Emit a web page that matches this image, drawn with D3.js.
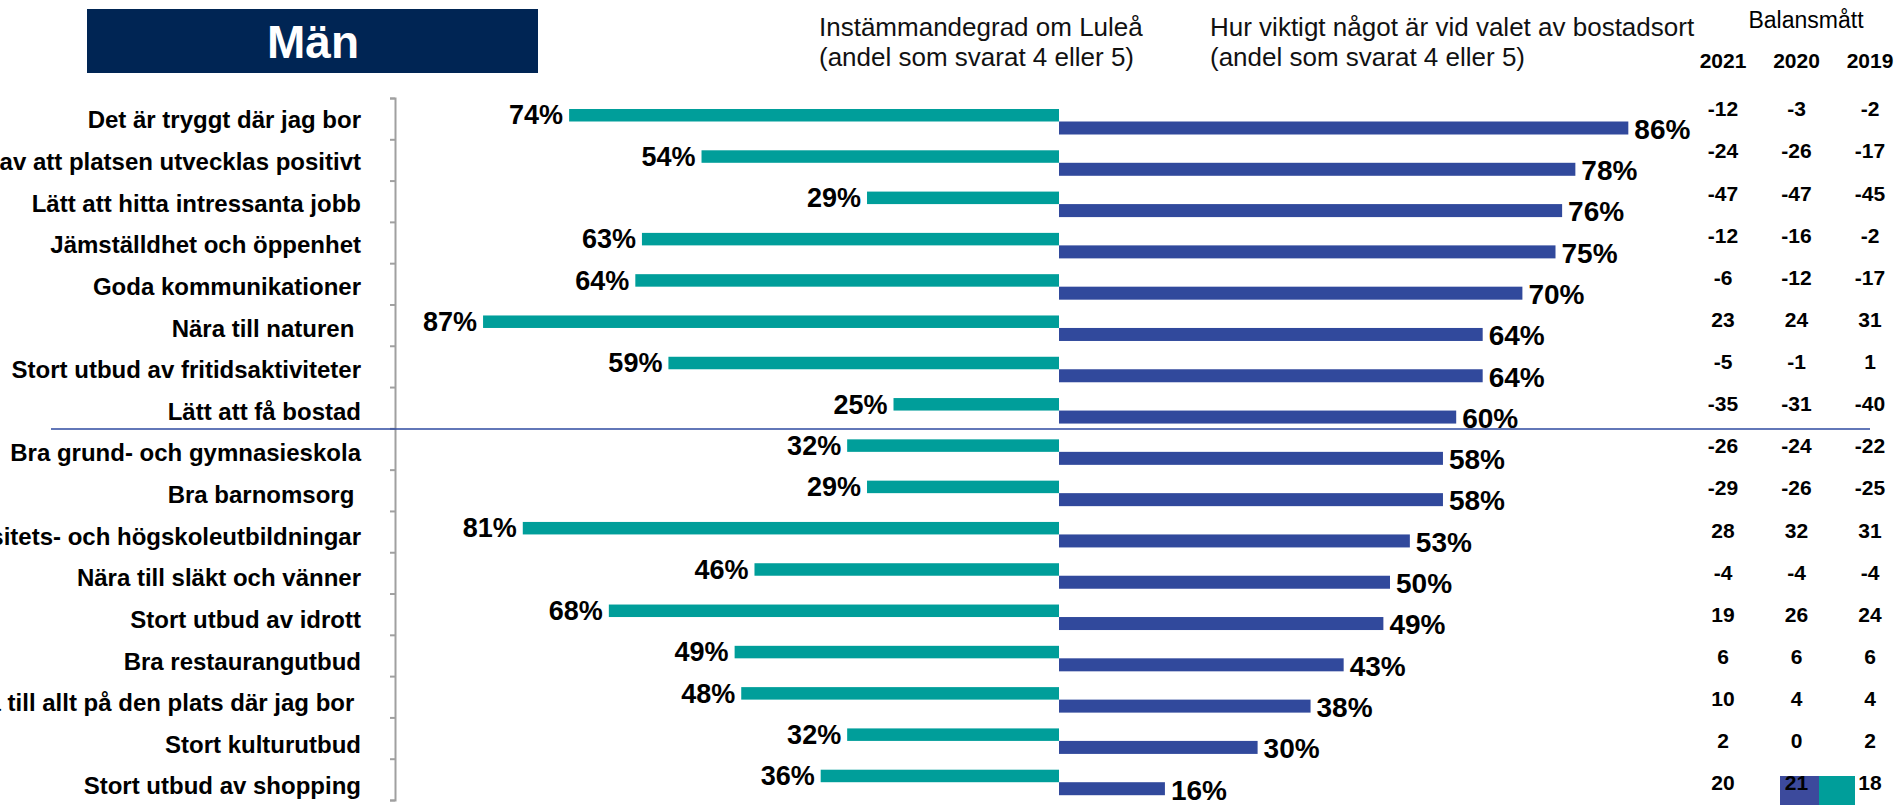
<!DOCTYPE html>
<html>
<head>
<meta charset="utf-8">
<script src="https://cdn.jsdelivr.net/npm/d3@7"></script>
<style>
  body { margin: 0; background: #fff; }
  svg text { font-family: "Liberation Sans", Arial, sans-serif; }
</style>
</head>
<body>
<div id="chart"></div>
<script>
// chart data
var categories = ["Det är tryggt där jag bor", "Känsla av att platsen utvecklas positivt", "Lätt att hitta intressanta jobb",
  "Jämställdhet och öppenhet", "Goda kommunikationer", "Nära till naturen ", "Stort utbud av fritidsaktiviteter",
  "Lätt att få bostad", "Bra grund- och gymnasieskola", "Bra barnomsorg ", "Universitets- och högskoleutbildningar",
  "Nära till släkt och vänner", "Stort utbud av idrott", "Bra restaurangutbud", "Nära till allt på den plats där jag bor ",
  "Stort kulturutbud", "Stort utbud av shopping"]
var agree = [74, 54, 29, 63, 64, 87, 59, 25, 32, 29, 81, 46, 68, 49, 48, 32, 36]
var importance = [86, 78, 76, 75, 70, 64, 64, 60, 58, 58, 53, 50, 49, 43, 38, 30, 16]
var years = ["2021", "2020", "2019"]
var bal2021 = [-12, -24, -47, -12, -6, 23, -5, -35, -26, -29, 28, -4, 19, 6, 10, 2, 20]
var bal2020 = [-3, -26, -47, -16, -12, 24, -1, -31, -24, -26, 32, -4, 26, 6, 4, 0, 21]
var bal2019 = [-2, -17, -45, -2, -17, 31, 1, -40, -22, -25, 31, -4, 24, 6, 4, 2, 18]
var balance = [bal2021, bal2020, bal2019]

var width = 1901
var height = 805
var teal = "#009e9a"
var blue = "#31499c"

var svg = d3.select("#chart")
  .append("svg")
    .attr("width", width)
    .attr("height", height)

var x = d3.scaleLinear().domain([-100, 100]).range([397, 1721])
var y = d3.scaleBand().domain(categories).range([98, 800])
var yLabel = d3.scalePoint().domain(categories).range([120, 786])
var yBal = d3.scalePoint().domain(categories).range([109, 783])
var xYear = d3.scalePoint().domain(years).range([1723, 1870])

// logo in the corner (behind the table)
var logo = svg.append("g")
logo.append("rect").attr("x", 1780).attr("y", 776).attr("width", 40).attr("height", 29).attr("fill", "#3c4a9c")
logo.append("rect").attr("x", 1819).attr("y", 776).attr("width", 36).attr("height", 29).attr("fill", teal)

// title box
svg.append("rect")
  .attr("x", 87).attr("y", 9).attr("width", 451).attr("height", 64)
  .attr("fill", "#002554")
svg.append("text")
  .attr("x", 313).attr("y", 58)
  .attr("text-anchor", "middle")
  .attr("fill", "#fff")
  .attr("font-weight", "bold")
  .attr("font-size", 46)
  .text("Män")

// column headers
var head = svg.append("g").attr("font-size", 26).attr("fill", "#111")
head.append("text").attr("x", 819).attr("y", 36).text("Instämmandegrad om Luleå")
head.append("text").attr("x", 819).attr("y", 66).text("(andel som svarat 4 eller 5)")
head.append("text").attr("x", 1210).attr("y", 36).text("Hur viktigt något är vid valet av bostadsort")
head.append("text").attr("x", 1210).attr("y", 66).text("(andel som svarat 4 eller 5)")
svg.append("text")
  .attr("x", 1806).attr("y", 28)
  .attr("text-anchor", "middle")
  .attr("font-size", 23)
  .text("Balansmått")
svg.append("g")
  .attr("font-size", 21).attr("font-weight", "bold").attr("text-anchor", "middle")
  .selectAll("text")
  .data(years)
  .join("text")
    .attr("x", d => xYear(d))
    .attr("y", 68)
    .text(d => d)

// axis with ticks between categories
var yTicks = d3.scaleLinear().domain([0, categories.length]).range([98, 800])
var axis = svg.append("g")
  .attr("transform", "translate(395,0)")
  .call(d3.axisLeft(yTicks).tickValues(d3.range(categories.length + 1)).tickSize(5).tickFormat(""))
axis.select(".domain").attr("stroke", "#a0a0a0").attr("stroke-width", 2)
axis.selectAll(".tick line").attr("stroke", "#a0a0a0").attr("stroke-width", 2)

// category labels
svg.append("g")
  .attr("font-size", 24).attr("font-weight", "bold").attr("text-anchor", "end")
  .selectAll("text")
  .data(categories)
  .join("text")
    .attr("x", 361)
    .attr("y", d => yLabel(d))
    .attr("dy", "0.35em")
    .style("white-space", "pre")
    .text(d => d)

// separator line
svg.append("line")
  .attr("x1", 51).attr("x2", 1870)
  .attr("y1", 429).attr("y2", 429)
  .attr("stroke", "#2e4aa0").attr("stroke-width", 1.5)

// bars
svg.append("g")
  .selectAll("rect")
  .data(agree)
  .join("rect")
    .attr("x", d => x(-d))
    .attr("y", (d, i) => y(categories[i]) + 11)
    .attr("width", d => x(0) - x(-d))
    .attr("height", 12.5)
    .attr("fill", teal)

svg.append("g")
  .selectAll("rect")
  .data(importance)
  .join("rect")
    .attr("x", x(0))
    .attr("y", (d, i) => y(categories[i]) + 23.5)
    .attr("width", d => x(d) - x(0))
    .attr("height", 13)
    .attr("fill", blue)

// value labels
svg.append("g")
  .attr("font-size", 27).attr("font-weight", "bold").attr("text-anchor", "end")
  .selectAll("text")
  .data(agree)
  .join("text")
    .attr("x", d => x(-d) - 6)
    .attr("y", (d, i) => y(categories[i]) + 17)
    .attr("dy", "0.35em")
    .text(d => d + "%")

svg.append("g")
  .attr("font-size", 28).attr("font-weight", "bold")
  .selectAll("text")
  .data(importance)
  .join("text")
    .attr("x", d => x(d) + 6)
    .attr("y", (d, i) => y(categories[i]) + 31)
    .attr("dy", "0.35em")
    .text(d => d + "%")

// balance table
years.forEach(function(yr, j) {
  svg.append("g")
    .attr("font-size", 21).attr("font-weight", "bold").attr("text-anchor", "middle")
    .selectAll("text")
    .data(balance[j])
    .join("text")
      .attr("x", xYear(yr))
      .attr("y", (d, i) => yBal(categories[i]))
      .attr("dy", "0.35em")
      .text(d => d)
})
</script>
</body>
</html>
